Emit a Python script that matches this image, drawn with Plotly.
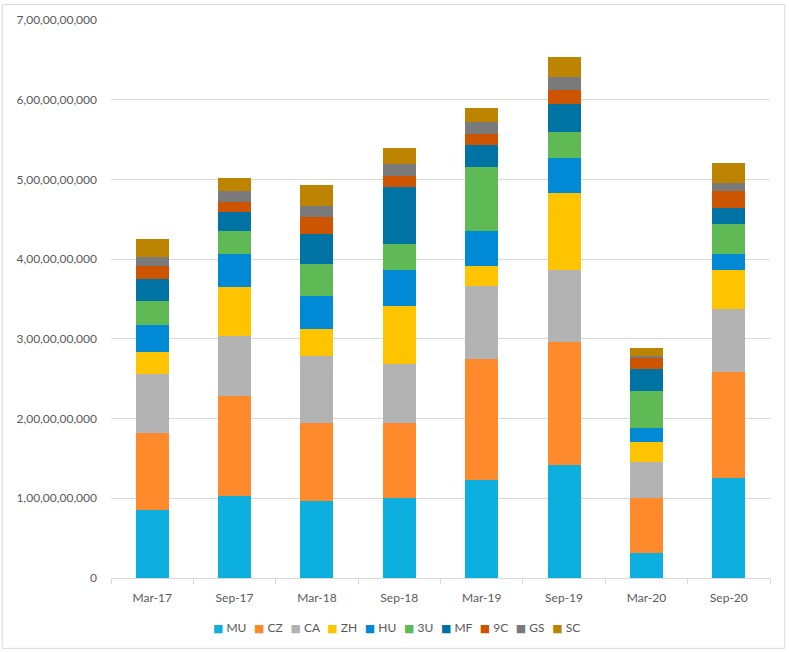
import plotly.graph_objects as go

categories = ["Mar-17", "Sep-17", "Mar-18", "Sep-18", "Mar-19", "Sep-19", "Mar-20", "Sep-20"]
series_names = ["MU", "CZ", "CA", "ZH", "HU", "3U", "MF", "9C", "GS", "SC"]

MU = [0.85e9, 1.03e9, 0.96e9, 1.00e9, 1.23e9, 1.42e9, 0.31e9, 1.25e9]
CZ = [0.97e9, 1.25e9, 0.98e9, 0.94e9, 1.52e9, 1.54e9, 0.69e9, 1.34e9]
CA = [0.74e9, 0.76e9, 0.84e9, 0.74e9, 0.91e9, 0.91e9, 0.46e9, 0.78e9]
ZH = [0.28e9, 0.61e9, 0.34e9, 0.73e9, 0.26e9, 0.96e9, 0.25e9, 0.49e9]
HU = [0.34e9, 0.42e9, 0.42e9, 0.45e9, 0.43e9, 0.44e9, 0.17e9, 0.21e9]
U3 = [0.30e9, 0.28e9, 0.40e9, 0.33e9, 0.80e9, 0.32e9, 0.46e9, 0.37e9]
MF = [0.27e9, 0.24e9, 0.38e9, 0.71e9, 0.28e9, 0.36e9, 0.28e9, 0.20e9]
C9 = [0.16e9, 0.13e9, 0.21e9, 0.14e9, 0.14e9, 0.17e9, 0.15e9, 0.21e9]
GS = [0.12e9, 0.14e9, 0.14e9, 0.15e9, 0.15e9, 0.16e9, 0.02e9, 0.11e9]
SC = [0.22e9, 0.16e9, 0.26e9, 0.21e9, 0.18e9, 0.25e9, 0.09e9, 0.25e9]

series_values = [MU, CZ, CA, ZH, HU, U3, MF, C9, GS, SC]
colors = ["#0CAFDE", "#FE8A2C", "#B3B3B3", "#FFC400", "#0089D4",
          "#5FB954", "#0073A5", "#CD5500", "#7A7A7A", "#BC8400"]

tick_vals = [0, 1e9, 2e9, 3e9, 4e9, 5e9, 6e9, 7e9]
tick_text = ["0", "1,00,00,00,000", "2,00,00,00,000", "3,00,00,00,000",
             "4,00,00,00,000", "5,00,00,00,000", "6,00,00,00,000", "7,00,00,00,000"]

fig = go.Figure()
for name, vals, col in zip(series_names, series_values, colors):
    fig.add_trace(go.Bar(name=name, x=categories, y=vals, marker_color=col,
                         marker_line_width=0, showlegend=False))

font_color = "#595959"

# legend built as a single text line from the series names and colours
legend_parts = []
for name, col in zip(series_names, colors):
    legend_parts.append(
        "<span style='color:%s;font-family:DejaVu Sans;font-size:11px'>■</span>&nbsp;%s" % (col, name))
legend_text = "&nbsp;&nbsp;&#8201;".join(legend_parts)

fig.update_layout(
    barmode="stack",
    bargap=0.6,
    width=789, height=652,
    margin=dict(l=111, r=19, t=18, b=74),
    paper_bgcolor="white", plot_bgcolor="white",
    font=dict(family="Lato, 'Open Sans', sans-serif", size=12, color=font_color),
    xaxis=dict(showline=True, linecolor="#d9d9d9", linewidth=1,
               ticks="outside", tickson="boundaries", ticklen=5, tickcolor="#d9d9d9",
               ticklabelstandoff=9,
               showgrid=False, tickfont=dict(size=12, color=font_color)),
    yaxis=dict(range=[0, 7e9], tickvals=tick_vals, ticktext=tick_text,
               showgrid=True, gridcolor="#d9d9d9", gridwidth=1,
               showline=False, zeroline=False, ticks="",
               ticklabelstandoff=13, tickfont=dict(size=12, color=font_color)),
    annotations=[dict(text=legend_text, xref="paper", yref="paper",
                      x=0.433, y=-0.0893, xanchor="center", yanchor="middle",
                      showarrow=False, font=dict(size=12, color=font_color))],
    shapes=[dict(type="rect", xref="paper", yref="paper",
                 x0=-0.165, x1=1.0225, y0=-0.126, y1=1.028,
                 line=dict(color="#d9d9d9", width=1), fillcolor="rgba(0,0,0,0)")],
)

fig.write_html("out.html", config={"displayModeBar": False})

with open("out.html", "r", encoding="utf-8") as f:
    html = f.read()
html = html.replace("<body>", '<body style="margin:0;padding:0;overflow:hidden">', 1)
with open("out.html", "w", encoding="utf-8") as f:
    f.write(html)
